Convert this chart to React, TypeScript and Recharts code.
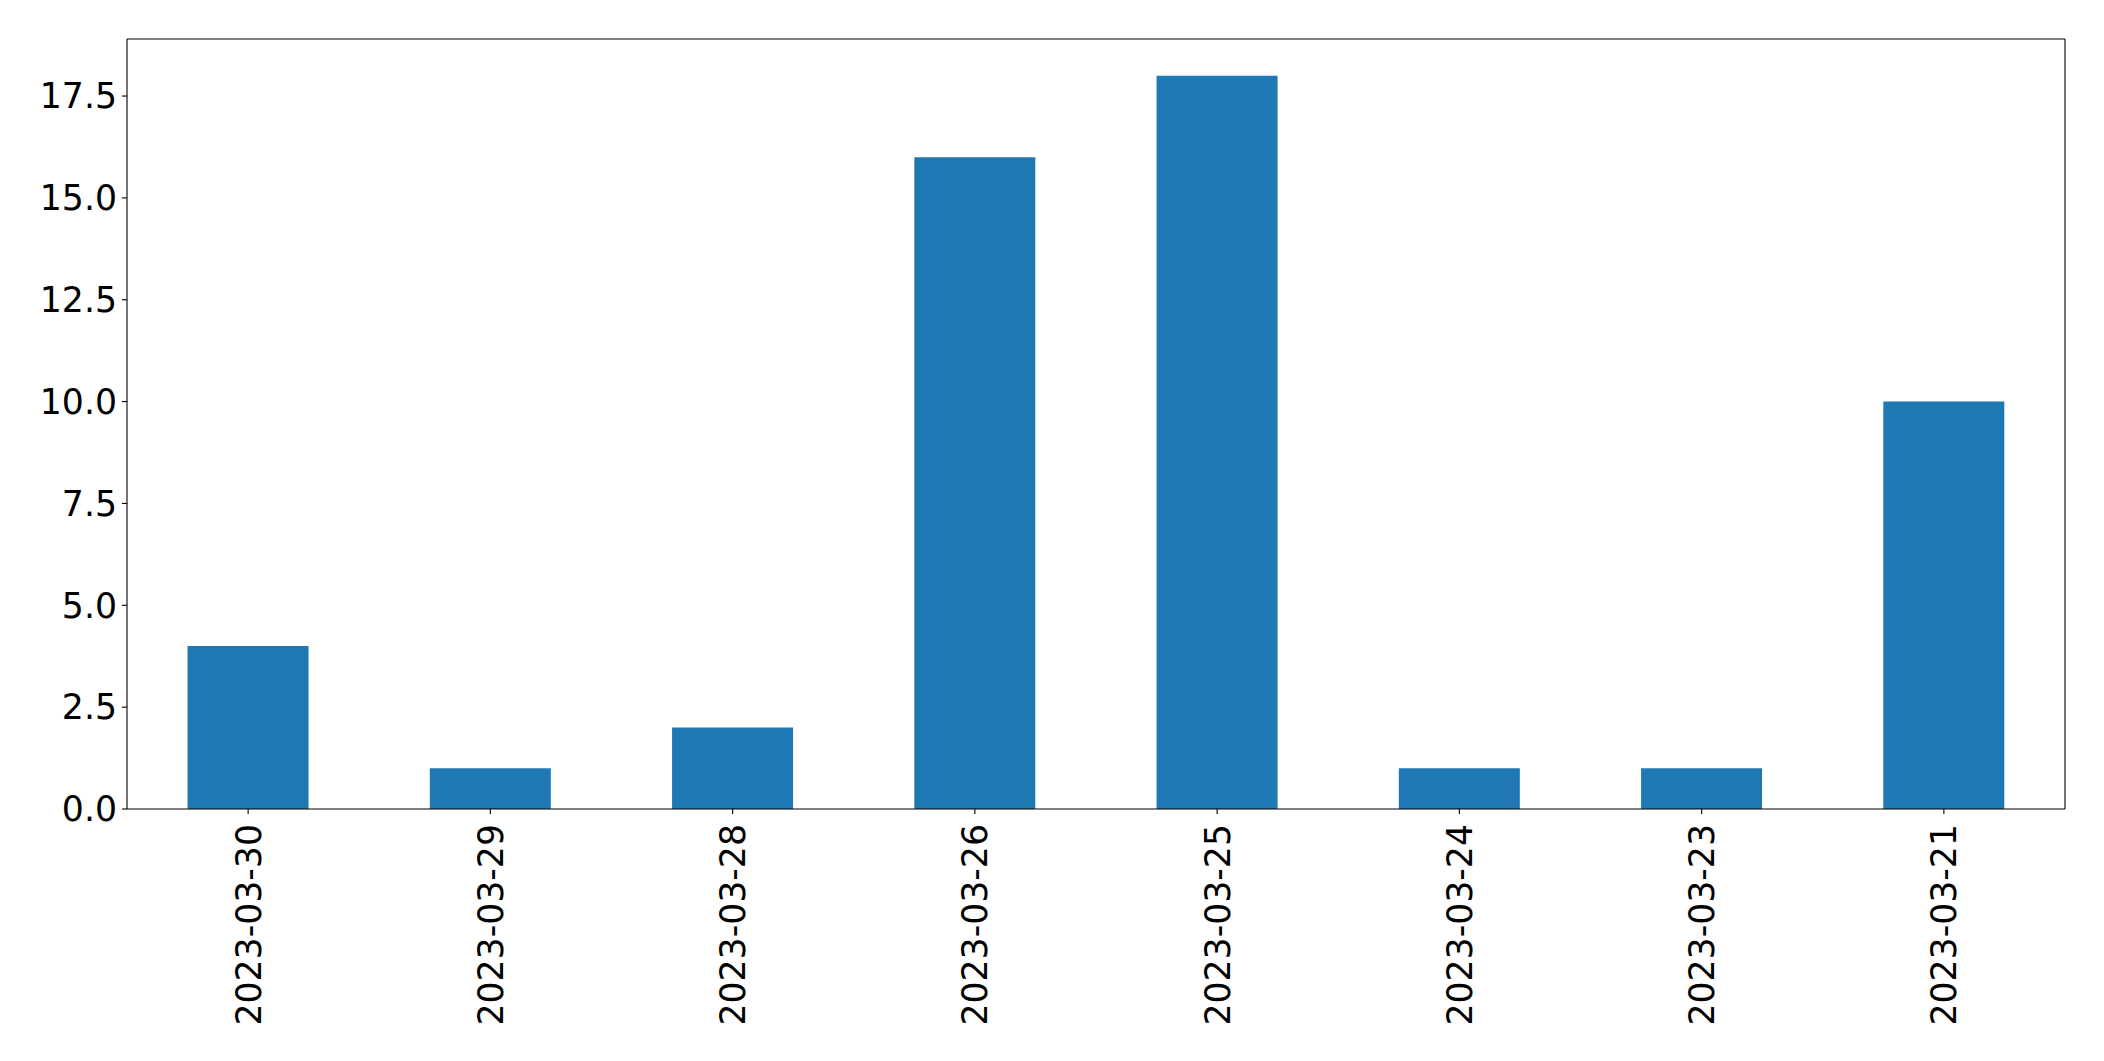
import React from "react";
import { BarChart, Bar, XAxis, YAxis } from "recharts";

const categories = [
  "2023-03-30",
  "2023-03-29",
  "2023-03-28",
  "2023-03-26",
  "2023-03-25",
  "2023-03-24",
  "2023-03-23",
  "2023-03-21",
];
const counts = [4, 1, 2, 16, 18, 1, 1, 10];
const yTicks = [0, 2.5, 5, 7.5, 10, 12.5, 15, 17.5];

const data = categories.map((c, i) => ({ date: c, count: counts[i] }));

const FONT = "DejaVu Sans";
const FS = 34.7;

const XTick = (props: any) => {
  const { x, y, payload } = props;
  return (
    <text
      x={0}
      y={0}
      transform={`translate(${x},${y + 8}) rotate(-90)`}
      textAnchor="end"
      dy="0.36em"
      fontFamily={FONT}
      fontSize={FS}
      fill="#000"
    >
      {payload.value}
    </text>
  );
};

export default function App() {
  return (
    <div style={{ position: "absolute", left: 0, top: 0, background: "#fff" }}>
      <BarChart
        width={2104}
        height={1061}
        data={data}
        margin={{ top: 38, right: 38, left: 0, bottom: 0 }}
        barCategoryGap="25%"
      >
        <XAxis
          dataKey="date"
          height={252}
          interval={0}
          tick={<XTick />}
          tickSize={5}
          tickLine={{ stroke: "#000", strokeWidth: 1.1 }}
          axisLine={{ stroke: "#000", strokeWidth: 1.1 }}
        />
        <XAxis
          xAxisId="top"
          dataKey="date"
          orientation="top"
          height={1}
          tick={false}
          tickLine={false}
          axisLine={{ stroke: "#000", strokeWidth: 1.1 }}
        />
        <YAxis
          width={127}
          domain={[0, 18.9]}
          ticks={yTicks}
          interval={0}
          tickFormatter={(v: number) => v.toFixed(1)}
          tickSize={5}
          tickMargin={5}
          tick={{ fontFamily: FONT, fontSize: FS, fill: "#000" }}
          tickLine={{ stroke: "#000", strokeWidth: 1.1 }}
          axisLine={{ stroke: "#000", strokeWidth: 1.1 }}
          allowDataOverflow
        />
        <YAxis
          yAxisId="right"
          orientation="right"
          width={1}
          domain={[0, 18.9]}
          tick={false}
          tickLine={false}
          axisLine={{ stroke: "#000", strokeWidth: 1.1 }}
        />
        <Bar dataKey="count" fill="#1f77b4" isAnimationActive={false} />
      </BarChart>
    </div>
  );
}
